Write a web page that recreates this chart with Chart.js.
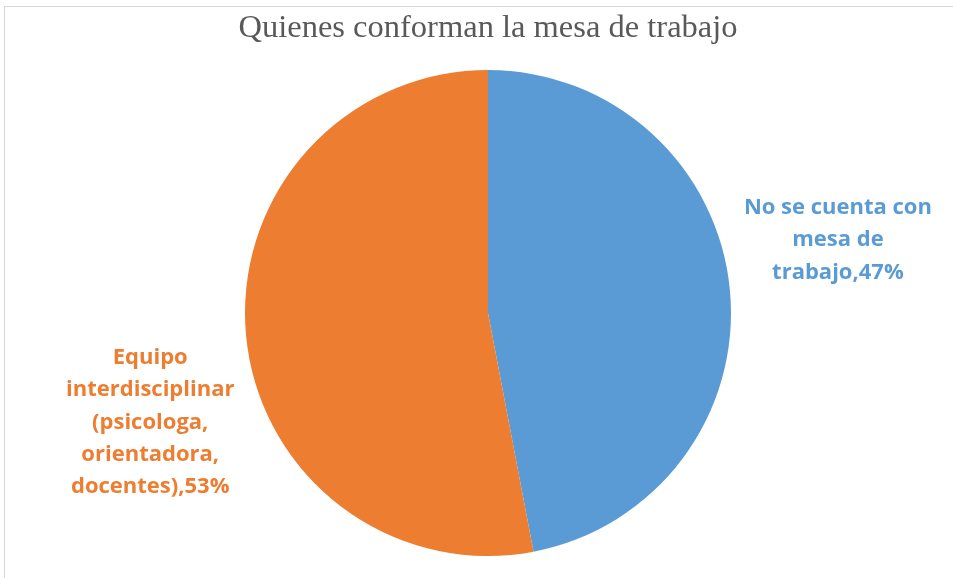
<!DOCTYPE html>
<html>
<head>
<meta charset="utf-8">
<script src="https://cdn.jsdelivr.net/npm/chart.js@4.4.0/dist/chart.umd.min.js"></script>
<style>
    html, body { margin: 0; padding: 0; background: #fff; }
    #wrap { position: relative; width: 953px; height: 578px; overflow: hidden; }
    #frame { position: absolute; left: 4px; top: 6px; width: 1000px; height: 1000px;
             border-left: 1px solid #d9d9d9; border-top: 1px solid #d9d9d9; }
    canvas { position: absolute; left: 0; top: 0; }
</style>
</head>
<body>
<div id="wrap">
    <div id="frame"></div>
    <canvas id="pieChart" width="953" height="578"></canvas>
</div>
<script>
// Chart data
const chartTitle = 'Quienes conforman la mesa de trabajo';
const categories = [
    ['No se cuenta con', 'mesa de', 'trabajo'],
    ['Equipo', 'interdisciplinar', '(psicologa,', 'orientadora,', 'docentes)']
];
const percentages = [47, 53];
const sliceColors = ['#5B9BD5', '#ED7D31'];

// Where each label sits, relative to pie centre, in units of the radius
const labelAnchors = [
    { dx: 1.44, dy: -0.30 },
    { dx: -1.39, dy: 0.45 }
];

// Draws the outside data labels (Excel style)
const outsideLabels = {
    id: 'outsideLabels',
    afterDatasetsDraw(chart) {
        const ctx = chart.ctx;
        const arcs = chart.getDatasetMeta(0).data;
        ctx.save();
        ctx.font = 'bold 22px "Open Sans", Lato, sans-serif';
        ctx.textAlign = 'center';
        ctx.textBaseline = 'middle';
        const lineH = 32.3;
        arcs.forEach((arc, i) => {
            const lines = categories[i].slice();
            lines[lines.length - 1] += ',' + percentages[i] + '%';
            const cx = arc.x + arc.outerRadius * labelAnchors[i].dx;
            const cy = arc.y + arc.outerRadius * labelAnchors[i].dy;
            const top = cy - (lines.length - 1) * lineH / 2;
            ctx.fillStyle = sliceColors[i];
            lines.forEach((line, j) => ctx.fillText(line, cx, top + j * lineH));
        });
        ctx.restore();
    }
};

new Chart(document.getElementById('pieChart').getContext('2d'), {
    type: 'pie',
    data: {
        labels: categories,
        datasets: [{
            data: percentages,
            backgroundColor: sliceColors,
            borderWidth: 0,
            hoverOffset: 0
        }]
    },
    options: {
        responsive: false,
        animation: false,
        layout: { padding: { left: 23, right: 0, top: 0, bottom: 22 } },
        plugins: {
            legend: { display: false },
            tooltip: { enabled: false },
            title: {
                display: true,
                text: chartTitle,
                color: '#595959',
                font: { family: '"Liberation Serif", "Times New Roman", serif', size: 32.5, weight: 'normal' },
                padding: { top: 8.5, bottom: 22.5 }
            }
        }
    },
    plugins: [outsideLabels]
});
</script>
</body>
</html>
